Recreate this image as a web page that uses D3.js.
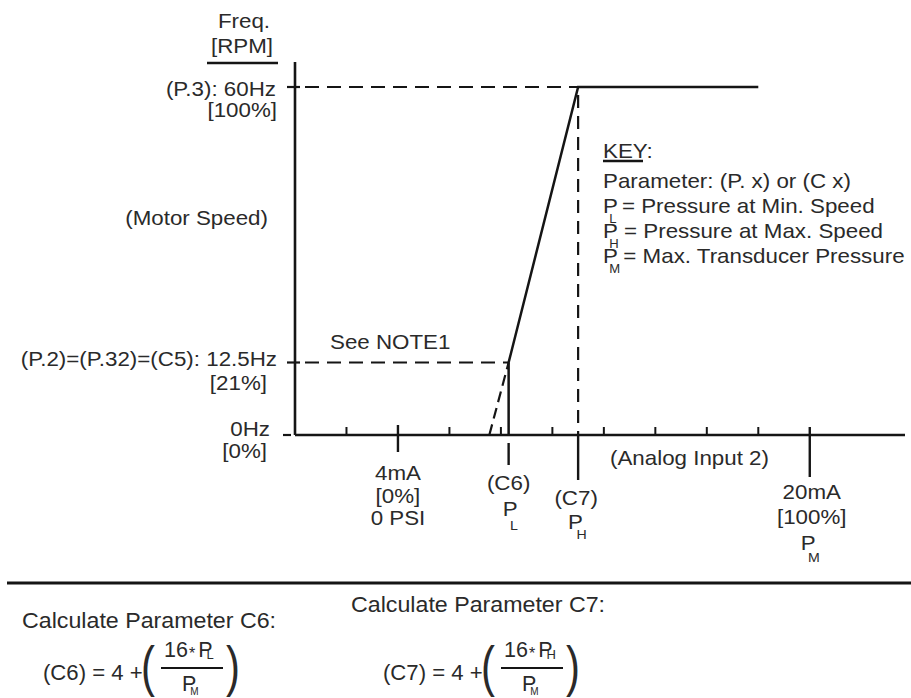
<!DOCTYPE html>
<html><head><meta charset="utf-8">
<script src="https://cdn.jsdelivr.net/npm/d3@7"></script>
<style>
html,body{margin:0;padding:0;background:#fff;}
svg{display:block;font-family:"Liberation Sans",Arial,Helvetica,sans-serif;}
text{fill:#2a2a2a;}
</style></head>
<body>
<svg id="chart" width="911" height="698"></svg>
<script>
// ---- data ----
const hzTicks = [0, 12.5, 60];              // frequency marks on the y axis (Hz)
const hzLabels = ["0Hz", "(P.2)=(P.32)=(C5): 12.5Hz", "(P.3): 60Hz"];
const hzPctLabels = ["[0%]", "[21%]", "[100%]"];
const mAMajor = [4, 20];                     // analog input major marks (mA)
const mAMinor = [2, 6, 8, 10, 12, 14, 16, 18];
const c6mA = 8.3;                            // P_L point
const c7mA = 11.0;                           // P_H point
const curveMA = [8.3, 8.3, 11.0, 18.0];      // motor-speed curve
const curveHz = [0, 12.5, 60, 60];
const extrapMA = [7.55, 8.3];                // dashed extrapolation (NOTE1)
const extrapHz = [0, 12.5];
const keyRows = [["L", "= Pressure at Min. Speed"],
                 ["H", "= Pressure at Max. Speed"],
                 ["M", "= Max. Transducer Pressure"]];

const svg = d3.select("#chart");
const x = d3.scaleLinear().domain([0, 23.7]).range([295, 905]);
const y = d3.scaleLinear().domain([0, 60]).range([435, 87]);
const INK = "#151515";
const SX = 1.09;

function txt(px, py, s, anchor = "start", size = 20.5, sx = SX) {
  const g = svg.append("g").attr("transform", `translate(${px},${py}) scale(${sx},1)`);
  g.append("text").attr("text-anchor", anchor).attr("font-size", size).text(s);
  return g;
}
// P with tucked subscript as one text element; px = left of P
function psub(px, py, sub, dy, opts = {}) {
  const size = opts.size || 20.5, subSize = opts.subSize || 13, dx = opts.dx ?? -6;
  const g = svg.append("g").attr("transform", `translate(${px},${py}) scale(${opts.sx || SX},1)`);
  const t = g.append("text").attr("font-size", size);
  t.append("tspan").text("P");
  t.append("tspan").attr("font-size", subSize).attr("dx", dx).attr("dy", dy).text(sub);
  if (opts.rest) t.append("tspan").attr("dx", opts.restDx || 3).attr("dy", -dy).text(opts.rest);
  return g;
}
function ln(x1, y1, x2, y2, w = 2.4, dash = null) {
  const l = svg.append("line").attr("x1", x1).attr("y1", y1).attr("x2", x2).attr("y2", y2)
    .attr("stroke", INK).attr("stroke-width", w);
  if (dash) l.attr("stroke-dasharray", dash);
  return l;
}

// ---- axes ----
ln(x(0), y(64.3), x(0), y(0), 2.6);
ln(x(0), y(0), x(23.7), y(0), 2.6);

// y ticks
hzTicks.forEach(h => {
  if (h === 0) ln(x(0) - 12, y(h), x(0) - 4, y(h), 2.2);
  else ln(x(0) - 8, y(h), x(0) + 5, y(h), 2.2);
});
// x minor ticks
mAMinor.forEach(m => ln(x(m), y(0) - 8, x(m), y(0), 2));
// x major ticks
ln(x(mAMajor[0]), y(0) - 10, x(mAMajor[0]), y(0) + 17, 2.4);
ln(x(mAMajor[1]), y(0) - 8, x(mAMajor[1]), y(0) + 42, 2.4);
// C6 / C7 ticks below axis
ln(x(c6mA), y(0) + 8, x(c6mA), y(0) + 30, 2.4);
ln(x(c7mA), y(0), x(c7mA), y(0) + 45, 2.4);

// ---- reference dashed lines ----
ln(x(0) + 10, y(60), x(c7mA), y(60), 2.2, "14,8");
ln(x(0) + 10, y(12.5), x(c6mA), y(12.5), 2.2, "14,8");
ln(x(c7mA), y(60) + 8, x(c7mA), y(0), 2.2, "13,8");
const lineGen = d3.line().x(d => x(d[0])).y(d => y(d[1]));
svg.append("path").attr("d", lineGen(d3.zip(extrapMA, extrapHz)))
  .attr("fill", "none").attr("stroke", INK).attr("stroke-width", 2.2).attr("stroke-dasharray", "11,6");

// ---- curve ----
svg.append("path").attr("d", lineGen(d3.zip(curveMA, curveHz)))
  .attr("fill", "none").attr("stroke", INK).attr("stroke-width", 2.5).attr("stroke-linejoin", "miter");

// ---- y labels ----
txt(244, 28, "Freq.", "middle");
txt(242, 53, "[RPM]", "middle");
ln(207, 63, 278, 63, 2.6);
txt(276, 96, hzLabels[2], "end");
txt(277, 117, hzPctLabels[2], "end");
txt(277, 366, hzLabels[1], "end");
txt(267, 390, hzPctLabels[1], "end");
txt(270, 436, hzLabels[0], "end");
txt(267, 458, hzPctLabels[0], "end");
txt(268, 225, "(Motor Speed)", "end");
txt(330, 349, "See NOTE1", "start");

// ---- x labels ----
txt(x(4), 480, "4mA", "middle");
txt(x(4), 503, "[0%]", "middle");
txt(x(4), 525, "0 PSI", "middle");
txt(x(c6mA), 490, "(C6)", "middle");
psub(x(c6mA) - 6, 516, "L", 14, { dx: -7 });
txt(x(c7mA) - 2, 505, "(C7)", "middle");
psub(x(c7mA) - 10, 529, "H", 10, { dx: -6 });
txt(610, 465, "(Analog Input 2)", "start");
txt(x(20) + 2, 499, "20mA", "middle");
txt(x(20) + 2, 524, "[100%]", "middle");
psub(x(20) - 9, 550, "M", 12, { dx: -7 });

// ---- key ----
txt(603, 158, "KEY:", "start");
ln(603, 161, 643, 161, 2.6);
txt(603, 188, "Parameter:  (P. x) or (C x)", "start");
keyRows.forEach(([s, t], i) => {
  psub(603, 213 + i * 25, s, 10, { subSize: 12, dx: -8, rest: t, restDx: i === 2 ? 3 : 5 });
});

// ---- separator ----
ln(7, 583, 911, 583, 2.8);

// ---- formulas ----
const FS = 21.5, FX = 1.08;
txt(22, 628, "Calculate Parameter  C6:", "start", FS, FX);
txt(351, 612, "Calculate Parameter  C7:", "start", FS, FX);

function paren(px, ch) {
  svg.append("g").attr("transform", `translate(${px},685) scale(1.1,1.45)`)
    .append("text").attr("font-size", 38).text(ch);
}
function formula(x0, lab, sub) {
  txt(x0, 680, `(${lab}) = 4 +`, "start", FS, 1.03);
  const p0 = x0 + 98;
  paren(p0, "(");
  const nx = p0 + 23;
  const num = svg.append("text").attr("x", nx).attr("y", 657).attr("font-size", FS);
  num.append("tspan").text("16");
  num.append("tspan").attr("font-size", 16).attr("dx", 1).attr("dy", 2).text("*");
  num.append("tspan").attr("dx", 3).attr("dy", -2).text("P");
  num.append("tspan").attr("font-size", 13).attr("dx", -6).attr("dy", 2).text(sub);
  ln(p0 + 20, 668, p0 + 82, 668, 2.2);
  const den = svg.append("text").attr("x", nx + 18).attr("y", 691).attr("font-size", FS);
  den.append("tspan").text("P");
  den.append("tspan").attr("font-size", 10).attr("dx", -6).attr("dy", 4).text("M");
  paren(p0 + 85, ")");
}
formula(43, "C6", "L");
formula(383, "C7", "H");
</script>
</body></html>
